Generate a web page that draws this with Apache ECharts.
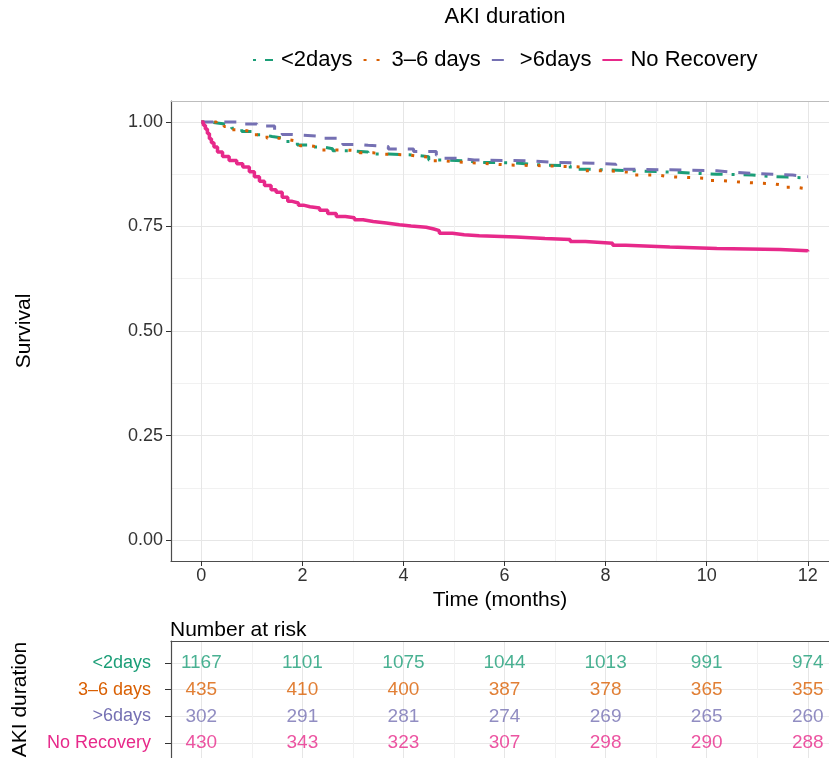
<!DOCTYPE html>
<html><head><meta charset="utf-8">
<script src="https://cdn.jsdelivr.net/npm/echarts@6/dist/echarts.min.js"></script>
<style>html,body{margin:0;padding:0;background:#fff}#c{width:829px;height:758px}</style>
</head><body><div id="c"></div>
<script>
// ---- data ----
const groupNames = ['<2days', '3–6 days', '>6days', 'No Recovery'];
const groupColors = ['#1B9E77', '#D95F02', '#7570B3', '#E7298A'];

const timeLt2 = [0, 0.15, 0.35, 0.6, 0.8, 1.05, 1.25, 1.4, 1.65, 1.9, 2.1, 2.4, 2.6, 2.9, 3.3, 3.7, 4.2, 4.5, 4.85, 5.3, 5.6, 6.2, 6.5, 6.75, 7.3, 7.6, 8.1, 8.6, 9.5, 9.8, 10.2, 10.9, 11.2, 11.6, 12];
const survLt2 = [1.0, 0.997, 0.993, 0.985, 0.977, 0.969, 0.965, 0.961, 0.953, 0.945, 0.94, 0.936, 0.931, 0.928, 0.923, 0.921, 0.917, 0.909, 0.906, 0.903, 0.902, 0.899, 0.897, 0.895, 0.887, 0.885, 0.883, 0.879, 0.877, 0.875, 0.873, 0.870, 0.868, 0.866, 0.866];

const time36 = [0, 0.3, 0.45, 0.6, 0.8, 1.0, 1.3, 1.55, 1.74, 1.95, 2.15, 2.38, 2.8, 3.13, 3.4, 3.6, 4.1, 4.35, 4.58, 4.8, 5.0, 5.56, 5.8, 6.06, 6.85, 7.55, 8.08, 8.55, 9.03, 9.27, 10.02, 10.26, 10.55, 10.8, 11.3, 11.5, 11.75, 12];
const surv36 = [1.0, 0.995, 0.989, 0.981, 0.977, 0.969, 0.961, 0.957, 0.953, 0.943, 0.939, 0.933, 0.931, 0.926, 0.923, 0.921, 0.917, 0.915, 0.907, 0.905, 0.901, 0.899, 0.897, 0.895, 0.892, 0.883, 0.879, 0.873, 0.869, 0.865, 0.860, 0.857, 0.855, 0.852, 0.849, 0.844, 0.840, 0.839];

const timeGt6 = [0, 0.75, 1.1, 1.45, 1.6, 1.8, 2.3, 2.8, 3.1, 3.3, 3.7, 4.2, 4.65, 4.8, 5.1, 5.4, 6.5, 7.0, 7.8, 8.2, 8.6, 10.2, 10.6, 11.3, 11.7, 12];
const survGt6 = [1.0, 0.995, 0.99, 0.975, 0.97, 0.966, 0.961, 0.946, 0.944, 0.941, 0.935, 0.929, 0.92, 0.913, 0.909, 0.907, 0.903, 0.901, 0.899, 0.887, 0.883, 0.879, 0.875, 0.873, 0.869, 0.869];

const timeNoRec = [0, 0.04, 0.08, 0.12, 0.16, 0.2, 0.25, 0.32, 0.42, 0.55, 0.7, 0.82, 0.95, 1.05, 1.15, 1.25, 1.38, 1.48, 1.6, 1.71, 1.8, 1.92, 2.02, 2.15, 2.34, 2.5, 2.67, 2.85, 3.03, 3.2, 3.4, 3.66, 3.92, 4.15, 4.45, 4.6, 4.71, 4.97, 5.2, 5.5, 6.23, 6.8, 7.3, 7.6, 8.14, 8.4, 9.27, 10.2, 11.45, 12];
const survNoRec = [1.0, 0.992, 0.983, 0.972, 0.96, 0.95, 0.94, 0.928, 0.917, 0.908, 0.9, 0.892, 0.881, 0.869, 0.858, 0.848, 0.838, 0.832, 0.82, 0.81, 0.806, 0.801, 0.797, 0.794, 0.789, 0.781, 0.774, 0.771, 0.766, 0.762, 0.758, 0.754, 0.751, 0.748, 0.744, 0.74, 0.734, 0.73, 0.728, 0.725, 0.721, 0.719, 0.714, 0.71, 0.705, 0.701, 0.697, 0.695, 0.692, 0.69];

const xTickValues = [0, 2, 4, 6, 8, 10, 12];
const xGridValues = [0, 1, 2, 3, 4, 5, 6, 7, 8, 9, 10, 11, 12];
const yTickValues = [0, 0.25, 0.5, 0.75, 1];
const yGridValues = [0, 0.125, 0.25, 0.375, 0.5, 0.625, 0.75, 0.875, 1];

const riskTimes = [0, 2, 4, 6, 8, 10, 12];
const riskLt2 = [1167, 1101, 1075, 1044, 1013, 991, 974];
const risk36 = [435, 410, 400, 387, 378, 365, 355];
const riskGt6 = [302, 291, 281, 274, 269, 265, 260];
const riskNoRec = [430, 343, 323, 307, 298, 290, 288];
const riskRowIndex = [1, 2, 3, 4];

// ---- chart ----
const FONT = 'Liberation Sans, Arial, Helvetica, sans-serif';
const X_MIN = -0.6, X_MAX = 12.42;
const curves = [
  { t: timeLt2, s: survLt2, dash: [3, 9, 12, 9], w: 3 },
  { t: time36, s: surv36, dash: [3, 10], w: 3 },
  { t: timeGt6, s: survGt6, dash: [12, 11], w: 3 },
  { t: timeNoRec, s: survNoRec, dash: 'solid', w: 3.5 }
];
const riskRows = [riskLt2, risk36, riskGt6, riskNoRec];

const series = curves.map((c, i) => ({
  type: 'line', name: groupNames[i], xAxisIndex: 0, yAxisIndex: 0,
  step: 'end', symbol: 'none', showSymbol: false, silent: true, z: 3 + i,
  data: c.t.map((t, j) => [t, c.s[j]]),
  lineStyle: { color: groupColors[i], width: c.w, type: c.dash },
  itemStyle: { color: groupColors[i] }
}));
riskRows.forEach((arr, i) => series.push({
  type: 'scatter', name: 'risk' + i, xAxisIndex: 3, yAxisIndex: 2,
  symbolSize: 1, silent: true, itemStyle: { color: 'rgba(0,0,0,0)' },
  data: riskTimes.map((t, j) => [t, riskRowIndex[i], arr[j]]),
  label: { show: true, position: 'inside', formatter: p => String(p.value[2]),
           color: groupColors[i], fontSize: 19, fontFamily: FONT }
}));

const gridLineColors = ['#e6e6e6', '#f1f1f1'];
const option = {
  animation: false,
  backgroundColor: '#ffffff',
  textStyle: { fontFamily: FONT },
  grid: [
    { left: 171, top: 101, width: 658, height: 460, show: false, outerBoundsMode: 'none', containLabel: false },
    { left: 171, top: 641, width: 658, height: 117, show: false, outerBoundsMode: 'none', containLabel: false }
  ],
  legend: {
    data: groupNames, left: 252, top: 49, padding: 0, itemWidth: 20, itemHeight: 14, itemGap: 10,
    itemStyle: { opacity: 0, borderWidth: 0 },
    textStyle: { fontSize: 22, color: '#000', fontFamily: FONT, padding: [0, 0, 0, 3] },
    selectedMode: false
  },
  graphic: [
    { type: 'text', x: 505, y: 17, style: { text: 'AKI duration', fontSize: 22, fontFamily: FONT, fill: '#000', align: 'center', verticalAlign: 'middle', textAlign: 'center', textVerticalAlign: 'middle' } },
    { type: 'text', x: 170, y: 630, style: { text: 'Number at risk', fontSize: 21, fontFamily: FONT, fill: '#000', align: 'left', verticalAlign: 'middle', textAlign: 'left', textVerticalAlign: 'middle' } }
  ],
  xAxis: [
    { gridIndex: 0, type: 'value', min: X_MIN, max: X_MAX, position: 'bottom',
      axisLine: { show: true, onZero: false, lineStyle: { color: '#4d4d4d', width: 1.2 } },
      axisTick: { show: false, customValues: xGridValues }, axisLabel: { show: false },
      splitLine: { show: true, lineStyle: { color: gridLineColors, width: 1 } } },
    { gridIndex: 0, type: 'value', min: X_MIN, max: X_MAX, position: 'bottom',
      axisLine: { show: false, onZero: false },
      axisTick: { show: true, customValues: xTickValues, length: 5, lineStyle: { color: '#333' } },
      axisLabel: { show: true, customValues: xTickValues, fontSize: 18, color: '#333', margin: 6 },
      splitLine: { show: false },
      name: 'Time (months)', nameLocation: 'middle', nameGap: 23,
      nameTextStyle: { fontSize: 21, color: '#000', fontFamily: FONT } },
    { gridIndex: 0, type: 'value', min: X_MIN, max: X_MAX, position: 'top',
      axisLine: { show: true, onZero: false, lineStyle: { color: '#bdbdbd', width: 1.2 } },
      axisTick: { show: false }, axisLabel: { show: false }, splitLine: { show: false } },
    { gridIndex: 1, type: 'value', min: X_MIN, max: X_MAX, position: 'top',
      axisLine: { show: true, onZero: false, lineStyle: { color: '#4d4d4d', width: 1.2 } },
      axisTick: { show: false, customValues: xGridValues }, axisLabel: { show: false },
      splitLine: { show: true, lineStyle: { color: gridLineColors, width: 1 } } }
  ],
  yAxis: [
    { gridIndex: 0, type: 'value', min: -0.05, max: 1.05, position: 'left',
      axisLine: { show: true, onZero: false, lineStyle: { color: '#4d4d4d', width: 1.2 } },
      axisTick: { show: false, customValues: yGridValues }, axisLabel: { show: false },
      splitLine: { show: true, lineStyle: { color: gridLineColors, width: 1 } } },
    { gridIndex: 0, type: 'value', min: -0.05, max: 1.05, position: 'left',
      axisLine: { show: false, onZero: false },
      axisTick: { show: true, customValues: yTickValues, length: 5, lineStyle: { color: '#333' } },
      axisLabel: { show: true, customValues: yTickValues, formatter: v => Number(v).toFixed(2), fontSize: 18, color: '#333', margin: 8 },
      splitLine: { show: false },
      name: 'Survival', nameLocation: 'middle', nameRotate: 90, nameGap: 136,
      nameTextStyle: { fontSize: 21, color: '#000', fontFamily: FONT } },
    { gridIndex: 1, type: 'value', min: 0.18, max: 4.562, inverse: true, position: 'left',
      axisLine: { show: true, onZero: false, lineStyle: { color: '#4d4d4d', width: 1.2 } },
      axisTick: { show: true, customValues: riskRowIndex, length: 6, lineStyle: { color: '#333' } },
      axisLabel: { show: true, customValues: riskRowIndex, fontSize: 18, margin: 20,
                   formatter: v => groupNames[Math.round(Number(v)) - 1],
                   color: v => groupColors[Math.round(Number(v)) - 1] },
      splitLine: { show: true, lineStyle: { color: '#e9e9e9', width: 1 } },
      name: 'AKI duration', nameLocation: 'middle', nameRotate: 90, nameGap: 140,
      nameTextStyle: { fontSize: 21, color: '#000', fontFamily: FONT } }
  ],
  series: series
};
const chart = echarts.init(document.getElementById('c'), null, { renderer: 'canvas' });
chart.setOption(option);
</script>
</body></html>
